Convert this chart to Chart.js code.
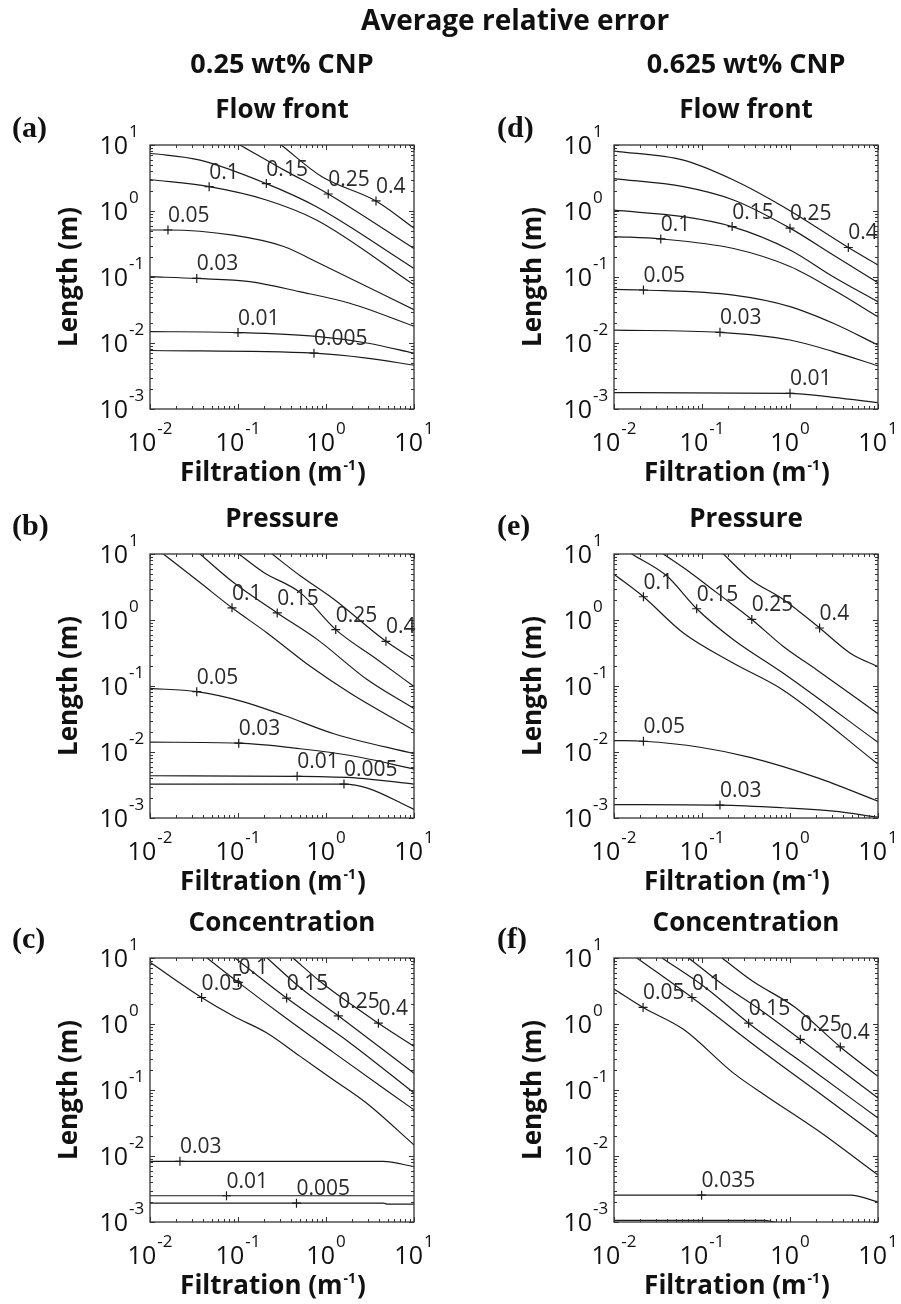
<!DOCTYPE html>
<html>
<head>
<meta charset="utf-8">
<script src="https://cdn.jsdelivr.net/npm/chart.js@4.4.1/dist/chart.umd.min.js"></script>
<style>
  body { margin: 0; background: #fff; width: 901px; height: 1304px; position: relative; overflow: hidden; }
  canvas { position: absolute; }
</style>
</head>
<body>
<canvas id="head" width="901" height="40" style="left:0;top:0"></canvas>
<canvas id="ca" width="450" height="490" style="left:0;top:0"></canvas>
<canvas id="cd" width="451" height="490" style="left:450px;top:0"></canvas>
<canvas id="cb" width="450" height="410" style="left:0;top:490px"></canvas>
<canvas id="ce" width="451" height="410" style="left:450px;top:490px"></canvas>
<canvas id="cc" width="450" height="404" style="left:0;top:900px"></canvas>
<canvas id="cf" width="451" height="404" style="left:450px;top:900px"></canvas>
<script>
// ---- axes ----
const xTicks = [0.01, 0.1, 1, 10];
const yTicks = [0.001, 0.01, 0.1, 1, 10];
const columnHeads = ['0.25 wt% CNP', '0.625 wt% CNP'];

// ---- (a) 0.25 wt% CNP, flow front ----
const aLevels = ['0.4', '0.25', '0.15', '0.1', '0.05', '0.03', '0.01', '0.005'];
const aLines = [
  [[0.31, 10], [0.9, 3.3], [3.7, 1.42], [10, 0.55]],
  [[0.105, 10], [0.33, 4.2], [1.06, 1.81], [10, 0.27]],
  [[0.01, 7.5], [0.037, 5.9], [0.21, 2.6], [0.78, 1.16], [10, 0.135]],
  [[0.01, 3.0], [0.047, 2.34], [0.21, 1.47], [0.78, 0.73], [10, 0.076]],
  [[0.01, 0.515], [0.016, 0.515], [0.088, 0.43], [0.33, 0.29], [0.85, 0.16], [10, 0.032]],
  [[0.01, 0.101], [0.034, 0.095], [0.136, 0.085], [0.5, 0.06], [1.86, 0.04], [10, 0.018]],
  [[0.01, 0.0149], [0.1, 0.0144], [0.78, 0.0126], [2.9, 0.010], [10, 0.007]],
  [[0.01, 0.0077], [0.73, 0.007], [2.9, 0.0059], [10, 0.0046]]
];
const aMarks = [[3.7, 1.42], [1.06, 1.81], [0.21, 2.6], [0.047, 2.34], [0.016, 0.515], [0.034, 0.095], [0.1, 0.0144], [0.73, 0.007]];

// ---- (b) 0.25 wt% CNP, pressure ----
const bLevels = ['0.4', '0.25', '0.15', '0.1', '0.05', '0.03', '0.01', '0.005'];
const bLines = [
  [[0.244, 10], [0.51, 4.67], [1.23, 2.06], [4.8, 0.475], [10, 0.25]],
  [[0.102, 10], [0.196, 5.25], [0.51, 2.6], [1.29, 0.716], [3.85, 0.25], [10, 0.098]],
  [[0.037, 10], [0.089, 3.69], [0.279, 1.28], [0.8, 0.504], [2.96, 0.124], [10, 0.0456]],
  [[0.0142, 10], [0.037, 3.69], [0.0855, 1.53], [0.214, 0.637], [0.668, 0.197], [1.91, 0.077], [10, 0.0213]],
  [[0.01, 0.092], [0.034, 0.082], [0.116, 0.0576], [0.33, 0.036], [1.23, 0.0189], [10, 0.0094]],
  [[0.01, 0.0141], [0.102, 0.0136], [0.51, 0.0112], [1.91, 0.00885], [10, 0.00553]],
  [[0.01, 0.00437], [0.47, 0.00428], [2.28, 0.00403], [10, 0.00327]],
  [[0.01, 0.00327], [1.6, 0.00327], [2.96, 0.00284], [10, 0.00135]]
];
const bMarks = [[4.8, 0.475], [1.29, 0.716], [0.279, 1.28], [0.0855, 1.53], [0.034, 0.082], [0.102, 0.0136], [0.47, 0.00428], [1.6, 0.00327]];

// ---- (c) 0.25 wt% CNP, concentration ----
const cLevels = ['0.4', '0.25', '0.15', '0.1', '0.05', '0.03', '0.01', '0.005'];
const cLines = [
  [[0.422, 10], [0.933, 4.03], [3.94, 1.03], [10, 0.46]],
  [[0.214, 10], [0.507, 3.58], [1.38, 1.33], [10, 0.18]],
  [[0.0925, 10], [0.357, 2.47], [1.86, 0.52], [10, 0.09]],
  [[0.0445, 10], [0.101, 4.27], [0.326, 1.32], [1.2, 0.375], [10, 0.05]],
  [[0.01, 8.6], [0.0386, 2.52], [0.0883, 1.32], [0.211, 0.738], [0.504, 0.326], [1.2, 0.144], [2.88, 0.0634], [10, 0.0147]],
  [[0.01, 0.0083], [0.0219, 0.0083], [4.45, 0.0083], [10, 0.0069]],
  [[0.01, 0.0025], [0.074, 0.0025], [10, 0.0025]],
  [[0.01, 0.00193], [0.462, 0.00193], [4.45, 0.00193], [5.07, 0.00186], [10, 0.00186]]
];
const cMarks = [[3.94, 1.03], [1.38, 1.33], [0.357, 2.47], [0.101, 4.27], [0.0386, 2.52], [0.0219, 0.0083], [0.074, 0.0025], [0.462, 0.00193]];

// ---- (d) 0.625 wt% CNP, flow front ----
const dLevels = ['0.4', '0.25', '0.15', '0.1', '0.05', '0.03', '0.01'];
const dLines = [
  [[0.01, 8.1], [0.0615, 5.9], [0.228, 2.95], [0.84, 1.16], [4.6, 0.28], [10, 0.152]],
  [[0.01, 3.1], [0.0615, 2.34], [0.228, 1.47], [1.0, 0.55], [3.1, 0.215], [10, 0.082]],
  [[0.01, 1.03], [0.0615, 0.82], [0.22, 0.58], [1.0, 0.257], [3.1, 0.101], [10, 0.042]],
  [[0.01, 0.41], [0.034, 0.377], [0.228, 0.27], [1.0, 0.144], [3.1, 0.064], [10, 0.025]],
  [[0.01, 0.065], [0.0216, 0.0635], [0.228, 0.053], [1.0, 0.0356], [3.1, 0.0199], [10, 0.0093]],
  [[0.01, 0.0157], [0.16, 0.0145], [1.0, 0.0111], [3.1, 0.0074], [10, 0.0045]],
  [[0.01, 0.00177], [1.0, 0.00173], [3.1, 0.0015], [10, 0.00125]]
];
const dMarks = [[4.6, 0.28], [1.0, 0.55], [0.22, 0.58], [0.034, 0.377], [0.0216, 0.0635], [0.16, 0.0145], [1.0, 0.00173]];

// ---- (e) 0.625 wt% CNP, pressure ----
const eLevels = ['0.4', '0.25', '0.15', '0.1', '0.05', '0.03'];
const eLines = [
  [[0.175, 10], [0.352, 4.15], [0.84, 2.05], [2.17, 0.757], [4.84, 0.314], [10, 0.196]],
  [[0.0364, 10], [0.0733, 5.25], [0.147, 2.6], [0.368, 1.02], [0.84, 0.397], [2.02, 0.175], [10, 0.038]],
  [[0.0159, 10], [0.0397, 4.67], [0.087, 1.48], [0.228, 0.502], [0.84, 0.156], [10, 0.014]],
  [[0.01, 4.94], [0.0216, 2.25], [0.0615, 0.635], [0.228, 0.221], [0.84, 0.0865], [10, 0.00655]],
  [[0.01, 0.0149], [0.0216, 0.01455], [0.095, 0.0118], [0.352, 0.00828], [2.02, 0.00409], [10, 0.0018]],
  [[0.01, 0.0016], [0.16, 0.00157], [0.84, 0.00143], [3.12, 0.00127], [10, 0.00103]]
];
const eMarks = [[2.17, 0.757], [0.368, 1.02], [0.087, 1.48], [0.0216, 2.25], [0.0216, 0.01455], [0.16, 0.00157]];

// ---- (f) 0.625 wt% CNP, concentration ----
const fLevels = ['0.4', '0.25', '0.15', '0.1', '0.05', '0.035', ''];
const fLines = [
  [[0.169, 10], [0.37, 4.52], [1.15, 1.78], [3.73, 0.449], [10, 0.161]],
  [[0.0705, 10], [0.169, 4.03], [0.48, 1.58], [1.31, 0.586], [10, 0.0755]],
  [[0.0351, 10], [0.109, 3.58], [0.339, 1.03], [2.02, 0.18], [10, 0.0375]],
  [[0.0182, 10], [0.0769, 2.52], [0.48, 0.39], [2.02, 0.0955], [10, 0.0197]],
  [[0.01, 3.38], [0.0214, 1.78], [0.0615, 0.83], [0.228, 0.18], [0.545, 0.080], [2.02, 0.0249], [10, 0.00514]],
  [[0.01, 0.00255], [0.099, 0.00255], [4.84, 0.00255], [10, 0.00202]],
  [[0.01, 0.00106], [0.5, 0.00106], [0.7, 0.00098]]
];
const fMarks = [[3.73, 0.449], [1.31, 0.586], [0.339, 1.03], [0.0769, 2.52], [0.0214, 1.78], [0.099, 0.00255], null];

// ---- layout (pixels of the page) ----
const cols = [
  { left: 0, width: 450, plotLeft: 150, plotRight: 414, letterX: 12 },
  { left: 450, width: 451, plotLeft: 614, plotRight: 878, letterX: 497 }
];
const rows = [
  { top: 0, height: 490, plotTop: 145, plotBottom: 409, letterDy: -8 },
  { top: 490, height: 410, plotTop: 554, plotBottom: 818, letterDy: -19 },
  { top: 900, height: 404, plotTop: 958, plotBottom: 1222, letterDy: -10 }
];

const panels = [
  { id: 'ca', col: 0, row: 0, letter: '(a)', title: 'Flow front', levels: aLevels, lines: aLines, marks: aMarks },
  { id: 'cb', col: 0, row: 1, letter: '(b)', title: 'Pressure', levels: bLevels, lines: bLines, marks: bMarks },
  { id: 'cc', col: 0, row: 2, letter: '(c)', title: 'Concentration', levels: cLevels, lines: cLines, marks: cMarks },
  { id: 'cd', col: 1, row: 0, letter: '(d)', title: 'Flow front', levels: dLevels, lines: dLines, marks: dMarks },
  { id: 'ce', col: 1, row: 1, letter: '(e)', title: 'Pressure', levels: eLevels, lines: eLines, marks: eMarks },
  { id: 'cf', col: 1, row: 2, letter: '(f)', title: 'Concentration', levels: fLevels, lines: fLines, marks: fMarks }
];

const SANS = '"Open Sans", "DejaVu Sans", sans-serif';
const INK = '#1b1b1b';

// "10" with a raised exponent, as MATLAB prints log ticks
function powLabel(ctx, v, px, py, axis, ca) {
  const e = String(Math.round(Math.log10(v)));
  ctx.font = '25px ' + SANS;
  const wb = ctx.measureText('10').width;
  ctx.font = '17px ' + SANS;
  const ws = ctx.measureText(e).width;
  let bx, by, ex, ey;
  if (axis === 'y') {
    bx = ca.left - 22 - wb; by = py + 9;
    ex = ca.left - 21; ey = py - 8;
  } else {
    bx = px - (wb + 1 + ws) / 2; by = ca.bottom + 42;
    ex = bx + wb + 1; ey = ca.bottom + 25;
  }
  ctx.textAlign = 'left';
  ctx.font = '25px ' + SANS;
  ctx.fillText('10', bx, by);
  ctx.font = '17px ' + SANS;
  ctx.fillText(e, ex, ey);
}

function makeDecor(p) {
  return {
    id: 'decor_' + p.id,
    afterDraw(chart) {
      const { ctx, chartArea: ca, scales: { x, y } } = chart;
      ctx.save();
      ctx.fillStyle = INK;
      ctx.strokeStyle = '#333';
      ctx.textBaseline = 'alphabetic';

      // box
      ctx.lineWidth = 1.3;
      ctx.strokeRect(ca.left, ca.top, ca.right - ca.left, ca.bottom - ca.top);

      // inward major / minor ticks on all four sides
      ctx.lineWidth = 1;
      ctx.beginPath();
      for (let k = -3; k <= 1; k++) {
        for (let m = 1; m <= 9; m++) {
          const v = m * Math.pow(10, k);
          const len = m === 1 ? 5 : 3;
          if (v >= 0.0099 && v <= 10.01) {
            const px = Math.round(x.getPixelForValue(v)) + 0.5;
            ctx.moveTo(px, ca.bottom); ctx.lineTo(px, ca.bottom - len);
            ctx.moveTo(px, ca.top); ctx.lineTo(px, ca.top + len);
          }
          if (v >= 0.00099 && v <= 10.01) {
            const py = Math.round(y.getPixelForValue(v)) + 0.5;
            ctx.moveTo(ca.left, py); ctx.lineTo(ca.left + len, py);
            ctx.moveTo(ca.right, py); ctx.lineTo(ca.right - len, py);
          }
        }
      }
      ctx.stroke();

      // tick labels
      ctx.fillStyle = '#111';
      xTicks.forEach(v => powLabel(ctx, v, x.getPixelForValue(v), 0, 'x', ca));
      yTicks.forEach(v => powLabel(ctx, v, 0, y.getPixelForValue(v), 'y', ca));

      // contour labels, left of text on the '+' marker
      ctx.fillStyle = '#2a2a2a';
      ctx.font = '21px ' + SANS;
      ctx.textAlign = 'left';
      p.marks.forEach((m, i) => {
        if (!m) return;
        ctx.fillText(p.levels[i], x.getPixelForValue(m[0]), y.getPixelForValue(m[1]) - 8);
      });

      const cx = (ca.left + ca.right) / 2;
      ctx.fillStyle = '#111';

      // panel title
      ctx.font = 'bold 26px ' + SANS;
      ctx.textAlign = 'center';
      ctx.fillText(p.title, cx, ca.top - 27);

      // column header
      if (p.row === 0) {
        ctx.font = 'bold 27px ' + SANS;
        ctx.fillText(columnHeads[p.col], cx, 73);
      }

      // x title with superscript
      ctx.textAlign = 'left';
      ctx.font = 'bold 26px ' + SANS;
      const t1 = 'Filtration (m', t3 = ')';
      const w1 = ctx.measureText(t1).width, w3 = ctx.measureText(t3).width;
      ctx.font = 'bold 14px ' + SANS;
      const w2 = ctx.measureText('-1').width;
      let tx = cx - 9 - (w1 + w2 + 2 + w3) / 2;
      const ty = ca.bottom + 72;
      ctx.font = 'bold 26px ' + SANS;
      ctx.fillText(t1, tx, ty);
      ctx.font = 'bold 14px ' + SANS;
      ctx.fillText('-1', tx + w1 + 1, ty - 11);
      ctx.font = 'bold 26px ' + SANS;
      ctx.fillText(t3, tx + w1 + w2 + 2, ty);

      // y title
      ctx.save();
      ctx.translate(ca.left - 73, (ca.top + ca.bottom) / 2);
      ctx.rotate(-Math.PI / 2);
      ctx.textAlign = 'center';
      ctx.font = 'bold 26px ' + SANS;
      ctx.fillText('Length (m)', 0, 0);
      ctx.restore();

      // panel letter
      ctx.textAlign = 'left';
      ctx.font = 'bold 30px "Liberation Serif", "Times New Roman", serif';
      ctx.fillText(p.letter, cols[p.col].letterX - cols[p.col].left, ca.top + rows[p.row].letterDy);

      ctx.restore();
    }
  };
}

function makeChart(p) {
  const c = cols[p.col], r = rows[p.row];
  const datasets = p.lines.map(pts => ({
    data: pts.map(([x, y]) => ({ x, y })),
    showLine: true,
    borderColor: INK,
    borderWidth: 1.2,
    pointRadius: 0,
    cubicInterpolationMode: 'monotone',
    fill: false
  }));
  datasets.push({
    data: p.marks.filter(Boolean).map(([x, y]) => ({ x, y })),
    showLine: false,
    pointStyle: 'cross',
    pointRadius: 4.5,
    pointBorderWidth: 1.2,
    borderColor: INK,
    backgroundColor: INK
  });

  new Chart(document.getElementById(p.id), {
    type: 'scatter',
    data: { datasets },
    options: {
      responsive: false,
      animation: false,
      layout: {
        padding: {
          left: c.plotLeft - c.left,
          right: c.left + c.width - c.plotRight,
          top: r.plotTop - r.top,
          bottom: r.top + r.height - r.plotBottom
        }
      },
      plugins: { legend: { display: false }, tooltip: { enabled: false } },
      scales: {
        x: { type: 'logarithmic', min: 0.01, max: 10, display: false },
        y: { type: 'logarithmic', min: 0.001, max: 10, display: false }
      }
    },
    plugins: [makeDecor(p)]
  });
}

panels.forEach(makeChart);

// figure title
const hc = document.getElementById('head').getContext('2d');
hc.fillStyle = '#111';
hc.textAlign = 'center';
hc.font = 'bold 28px ' + SANS;
hc.fillText('Average relative error', 515, 30);
</script>
</body>
</html>
